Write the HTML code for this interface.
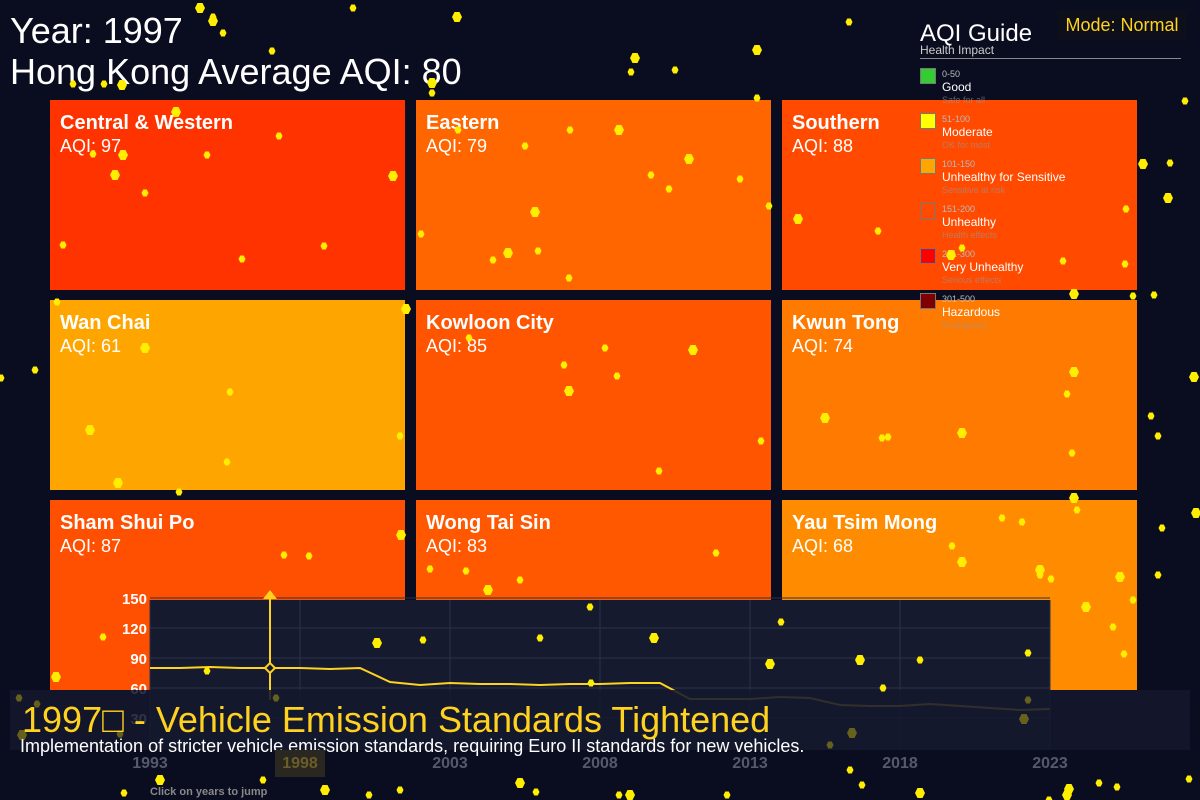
<!DOCTYPE html>
<html><head><meta charset="utf-8"><style>
body{margin:0;width:1200px;height:800px;background:#0a0d1f;overflow:hidden;position:relative;font-family:"Liberation Sans",sans-serif;}
.t{position:absolute;}
.tile{position:absolute;width:355px;height:190px;}
.tile .n{position:absolute;left:10px;top:12px;color:#fff;font-weight:bold;font-size:20px;}
.tile .v{position:absolute;left:10px;top:36px;color:#fff;font-size:18px;}
.leg{position:absolute;left:920px;}
.sw{position:absolute;left:0;width:14px;height:14px;border:1px solid #777;}
.r{position:absolute;left:22px;font-size:9px;color:#bbb;white-space:nowrap}
.l{position:absolute;left:22px;font-size:12px;color:#fff;white-space:nowrap}
.d{position:absolute;left:22px;font-size:9px;color:#999;white-space:nowrap;opacity:.6}
</style></head><body>
<div class="t" style="left:10px;top:10px;color:#fff;font-size:36px;">Year: 1997</div>
<div class="t" style="left:10px;top:51px;color:#fff;font-size:36px;">Hong Kong Average AQI: 80</div>

<div class="tile" style="left:50px;top:100px;background:#ff3300"><div class="n">Central &amp; Western</div><div class="v">AQI: 97</div></div>
<div class="tile" style="left:416px;top:100px;background:#ff6600"><div class="n">Eastern</div><div class="v">AQI: 79</div></div>
<div class="tile" style="left:782px;top:100px;background:#ff4a00"><div class="n">Southern</div><div class="v">AQI: 88</div></div>
<div class="tile" style="left:50px;top:300px;background:#ffa500"><div class="n">Wan Chai</div><div class="v">AQI: 61</div></div>
<div class="tile" style="left:416px;top:300px;background:#ff5500"><div class="n">Kowloon City</div><div class="v">AQI: 85</div></div>
<div class="tile" style="left:782px;top:300px;background:#ff7a00"><div class="n">Kwun Tong</div><div class="v">AQI: 74</div></div>
<div class="tile" style="left:50px;top:500px;background:#ff4f00"><div class="n">Sham Shui Po</div><div class="v">AQI: 87</div></div>
<div class="tile" style="left:416px;top:500px;background:#ff5800"><div class="n">Wong Tai Sin</div><div class="v">AQI: 83</div></div>
<div class="tile" style="left:782px;top:500px;background:#ff8c00"><div class="n">Yau Tsim Mong</div><div class="v">AQI: 68</div></div>

<div class="t" style="left:1057px;top:10px;width:130px;height:30px;background:#0d0f1a;color:#ffd21f;font-size:18px;line-height:30px;text-align:center">Mode: Normal</div>

<div class="leg" style="top:20px;width:262px;height:320px">
<div class="t" style="left:0;top:0;font-size:24px;color:#fff">AQI Guide</div>
<div class="t" style="left:0;top:23px;font-size:12px;color:#ccc">Health Impact</div>
<div class="t" style="left:0;top:38px;width:261px;height:1px;background:#888"></div>
<div><div class="sw" style="top:48px;background:#33cc33"></div><div class="r" style="top:49px">0-50</div><div class="l" style="top:60px">Good</div><div class="d" style="top:75px">Safe for all</div></div>
<div><div class="sw" style="top:93px;background:#ffff00"></div><div class="r" style="top:94px">51-100</div><div class="l" style="top:105px">Moderate</div><div class="d" style="top:120px">OK for most</div></div>
<div><div class="sw" style="top:138px;background:#ffa500"></div><div class="r" style="top:139px">101-150</div><div class="l" style="top:150px">Unhealthy for Sensitive</div><div class="d" style="top:165px">Sensitive at risk</div></div>
<div><div class="sw" style="top:183px;background:#ff4a00"></div><div class="r" style="top:184px">151-200</div><div class="l" style="top:195px">Unhealthy</div><div class="d" style="top:210px">Health effects</div></div>
<div><div class="sw" style="top:228px;background:#ff0000"></div><div class="r" style="top:229px">201-300</div><div class="l" style="top:240px">Very Unhealthy</div><div class="d" style="top:255px">Serious effects</div></div>
<div><div class="sw" style="top:273px;background:#7e0000"></div><div class="r" style="top:274px">301-500</div><div class="l" style="top:285px">Hazardous</div><div class="d" style="top:300px">Emergency</div></div>
</div>

<svg id="chart" class="t" style="left:0;top:0" width="1200" height="800"></svg>

<div class="t" style="left:10px;top:690px;width:1180px;height:60px;background:rgba(20,24,45,0.88)"></div>
<div class="t" style="left:22px;top:700px;color:#ffd21f;font-size:36px;line-height:40px;white-space:nowrap;font-family:'Liberation Sans','Noto Sans CJK SC',sans-serif">1997□ - Vehicle Emission Standards Tightened</div>
<div class="t" style="left:20px;top:736px;color:#fff;font-size:18px;line-height:20px;white-space:nowrap">Implementation of stricter vehicle emission standards, requiring Euro II standards for new vehicles.</div>

<svg id="dots" class="t" style="left:0;top:0;pointer-events:none" width="1200" height="800"></svg>

<script>
const years=[1993,1994,1995,1996,1997,1998,1999,2000,2001,2002,2003,2004,2005,2006,2007,2008,2009,2010,2011,2012,2013,2014,2015,2016,2017,2018,2019,2020,2021,2022,2023];
const aqi=[80,80,81,80,80,80,79,80,66,63,65,64,64,63,64,64,65,65,49,49,49,51,50,43,42,42,44,42,40,38,39];
const yTicks=[30,60,90,120,150];
const xTickLabels=[1993,1998,2003,2008,2013,2018,2023];
const selectedYear=1997;
const NS="http://www.w3.org/2000/svg";
const svg=document.getElementById('chart');
const x=y=>150+(y-1993)*30, yv=v=>748-v;
function mk(t,a,p){const e=document.createElementNS(NS,t);for(const k in a)e.setAttribute(k,a[k]);(p||svg).appendChild(e);return e;}
let bg=mk('rect',{x:150,y:600,width:900,height:150,fill:'#151a2e'});


yTicks.forEach(v=>{
 let g=mk('line',{x1:150,x2:1050,y1:yv(v),y2:yv(v),stroke:'#2c3148','stroke-width':1});
 
 
 let t=mk('text',{x:147,y:yv(v)+6,'text-anchor':'end',fill:'#fff','font-size':15,'font-weight':'bold','font-family':'Liberation Sans'});
 t.textContent=v;
 
 
});
xTickLabels.forEach(v=>{
 let g=mk('line',{x1:x(v),x2:x(v),y1:600,y2:750,stroke:'#2c3148','stroke-width':1});
 
 
});
let line=mk('polyline',{points:years.map((y,i)=>x(y)+','+yv(aqi[i])).join(' '),fill:'none',stroke:'#ffd21f','stroke-width':2});


const si=years.indexOf(selectedYear);
let vl=mk('line',{x1:x(selectedYear),x2:x(selectedYear),y1:598,y2:700,stroke:'#ffd21f','stroke-width':2});


let tri=mk('polygon',{points:`${x(selectedYear)-7},599 ${x(selectedYear)+7},599 ${x(selectedYear)},590`,fill:'#ffd21f'});


let pt=mk('path',{d:`M${x(selectedYear)-5},${yv(aqi[si])} l5,-5 l5,5 l-5,5z`,fill:'#151a2e',stroke:'#ffd21f','stroke-width':2});


const lab=document.getElementById('dots');
xTickLabels.forEach(v=>{
 if(v===1998){let r=mk('rect',{x:x(v)-25,y:750,width:50,height:27,fill:'#2a2720'},lab);
 
 }
 let t=mk('text',{x:x(v),y:768,'text-anchor':'middle',fill:v===1998?'#6b5d2a':'#555a6a','font-size':16,'font-weight':'bold','font-family':'Liberation Sans'},lab);
 t.textContent=v;
 
 
});
let hint=mk('text',{x:150,y:795,fill:'#888','font-size':11,'font-weight':'bold','font-family':'Liberation Sans'},lab);
hint.textContent='Click on years to jump';


const P=[[200,8],[213,17],[272,51],[635,58],[631,72],[675,70],[457,17],[353,8],[223,33],[213,21],[73,84],[104,84],[122,85],[93,154],[115,175],[123,155],[145,193],[63,245],[115,175],[242,259],[324,246],[393,176],[207,155],[279,136],[176,112],[432,93],[458,130],[432,83],[525,146],[570,130],[619,130],[651,175],[669,189],[689,159],[740,179],[769,206],[535,212],[538,251],[493,260],[508,253],[569,278],[421,234],[798,219],[878,231],[962,248],[951,255],[1063,261],[1126,209],[1168,198],[1185,101],[1170,163],[1143,164],[1154,295],[1133,296],[757,50],[757,98],[849,22],[1074,294],[1125,264],[57,302],[145,348],[35,370],[1,378],[90,430],[230,392],[227,462],[118,483],[179,492],[400,436],[406,309],[469,338],[564,365],[569,391],[617,376],[605,348],[693,350],[659,471],[761,441],[825,418],[888,437],[882,438],[962,433],[1072,453],[1067,394],[1074,372],[1158,436],[1151,416],[1194,377],[1022,522],[1077,510],[1074,498],[1002,518],[952,546],[962,562],[1040,575],[1051,579],[1120,577],[1113,627],[1124,654],[1086,607],[1162,528],[1158,575],[1196,513],[309,556],[284,555],[401,535],[430,569],[466,571],[488,590],[520,580],[716,553],[56,677],[103,637],[207,671],[377,643],[423,640],[540,638],[654,638],[590,607],[591,683],[770,664],[781,622],[883,688],[860,660],[920,660],[1028,653],[1040,570],[19,698],[37,704],[22,735],[120,734],[124,793],[160,780],[276,698],[263,780],[325,790],[369,795],[400,790],[520,783],[536,792],[619,795],[852,733],[850,770],[862,785],[1024,719],[1028,700],[1049,800],[1067,795],[1099,783],[1117,787],[1069,789],[1189,779],[1133,600],[920,793],[830,745],[727,795],[630,795]];
P.forEach((p,i)=>{
 const r=i%3===0?5:3.5;
 const c=mk('path',{d:`M${p[0]-r},${p[1]} L${p[0]-r*0.5},${p[1]-r} L${p[0]+r*0.5},${p[1]-r} L${p[0]+r},${p[1]} L${p[0]+r*0.5},${p[1]+r} L${p[0]-r*0.5},${p[1]+r}z`,fill:'#ffee00',opacity:p[1]>690&&p[1]<750?0.35:1},lab);
 
 
});
</script>
</body></html>
